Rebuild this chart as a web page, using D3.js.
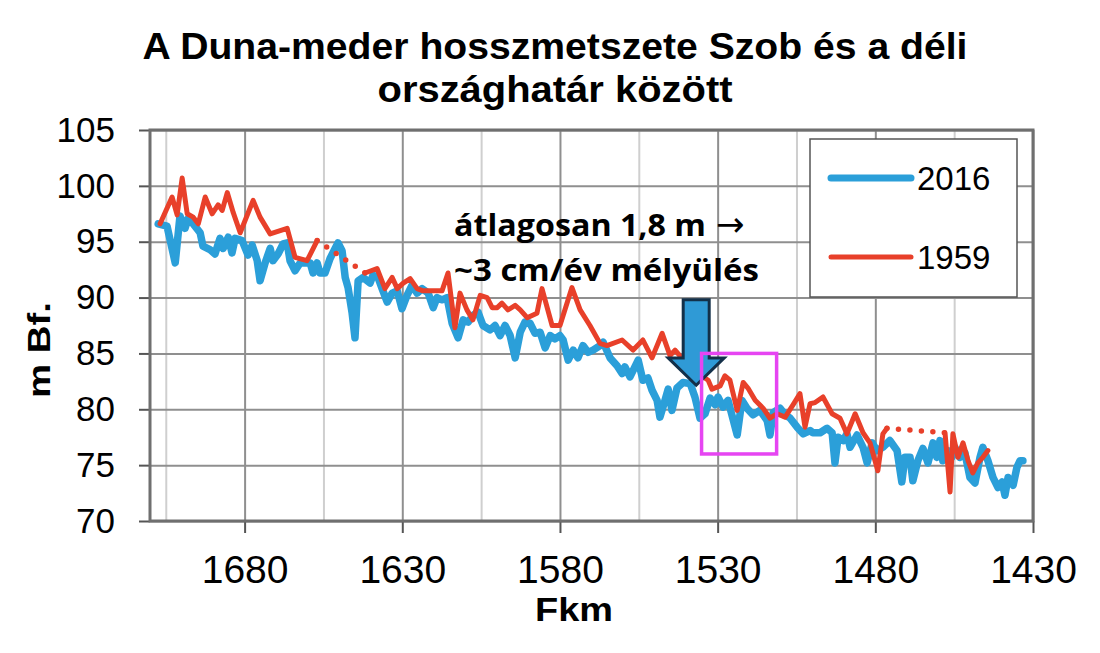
<!DOCTYPE html>
<html>
<head>
<meta charset="utf-8">
<script src="https://cdn.jsdelivr.net/npm/d3@7"></script>
<style>
body { margin: 0; background: #fff; }
</style>
</head>
<body>
<div id="plot"></div>
<script>
//data - riverbed elevation (m Bf.) along the Danube (Fkm)
var fkm2016 = [1707.4,1704.6,1702.0,1700.5,1698.9,1697.9,1696.3,1694.1,1693.2,1691.0,
	1689.4,1687.8,1686.8,1685.2,1684.0,1683.0,1680.8,1678.9,1677.6,1676.0,
	1675.1,1673.5,1671.9,1671.0,1669.4,1667.8,1666.5,1665.6,1664.0,1662.4,
	1660.8,1659.2,1658.3,1657.0,1656.1,1654.5,1652.9,1651.3,1650.4,1649.1,
	1648.1,1647.2,1645.9,1645.0,1644.0,1642.4,1640.2,1639.3,1637.7,1636.4,
	1634.8,1633.2,1631.6,1630.1,1628.5,1626.9,1625.3,1623.7,1621.8,1620.2,
	1619.0,1617.4,1615.8,1614.2,1612.3,1610.7,1609.1,1607.6,1606.0,1604.4,
	1602.2,1600.6,1599.0,1597.4,1595.8,1594.2,1592.6,1591.1,1589.5,1587.9,
	1586.3,1584.7,1583.1,1581.6,1580.0,1579.0,1577.4,1575.8,1574.3,1572.7,
	1571.1,1569.5,1567.3,1566.3,1564.1,1561.9,1560.3,1559.4,1557.8,1555.2,
	1553.7,1552.1,1550.8,1549.2,1548.3,1546.7,1545.7,1544.5,1542.9,1541.0,
	1538.7,1537.2,1535.6,1534.0,1532.4,1530.8,1529.9,1528.3,1526.7,1523.8,
	1522.3,1520.7,1518.8,1516.6,1514.3,1513.4,1512.4,1510.2,1508.6,1507.0,
	1504.8,1502.9,1500.7,1499.8,1497.5,1495.3,1493.7,1492.8,1491.8,1490.2,
	1489.0,1488.0,1485.8,1483.9,1482.6,1481.0,1479.5,1477.6,1475.4,1473.1,
	1471.6,1470.6,1469.0,1468.1,1466.5,1464.9,1463.3,1461.7,1460.5,1459.5,
	1458.6,1457.0,1455.7,1454.8,1453.2,1451.6,1450.0,1448.4,1446.8,1445.9,
	1444.3,1442.7,1441.1,1439.8,1438.9,1437.9,1436.3,1435.1,1434.1,1433.2];
var szint2016 = [96.6,96.4,93.1,97.3,96.2,97.1,96.6,95.8,94.6,94.3,
	93.9,95.3,94.4,95.4,94.0,95.3,95.1,93.8,94.7,93.3,
	91.5,93.1,94.4,93.3,93.9,94.8,94.9,93.3,92.4,93.1,
	93.1,93.1,92.2,93.1,92.2,92.2,93.5,94.4,94.9,94.2,
	91.8,90.9,88.6,86.4,91.5,91.8,91.3,92.0,91.8,90.8,
	89.6,90.4,90.6,89.0,90.2,91.1,90.4,90.8,90.4,89.1,
	90.0,89.8,90.0,87.7,86.4,88.0,87.8,88.4,88.7,87.5,
	87.1,87.5,86.6,87.5,86.6,84.6,86.9,87.8,87.7,86.8,
	86.9,85.5,86.6,86.3,86.6,86.2,84.4,85.3,84.6,85.7,
	85.1,85.3,85.7,86.0,84.6,83.9,83.2,83.8,82.9,84.4,
	82.6,82.8,81.7,80.8,79.3,80.8,81.8,79.9,81.9,82.4,
	82.3,81.1,79.2,79.6,81.0,80.4,81.1,80.2,80.8,77.7,
	80.8,80.1,79.5,79.9,79.0,77.7,79.7,80.1,79.5,79.2,
	78.4,77.8,78.1,77.9,77.9,78.3,77.9,75.2,77.5,77.2,
	77.8,76.6,77.7,76.6,75.2,77.0,76.3,76.6,77.2,76.3,
	73.5,75.7,75.7,73.6,75.4,76.5,75.2,77.0,75.7,77.2,
	75.4,76.3,75.7,76.6,75.7,76.1,73.9,73.4,75.7,76.6,
	75.4,73.9,73.0,73.5,72.3,73.9,73.2,74.8,75.4,75.4];

//1959 survey, null = missing section (shown dotted)
var fkm1959 = [1706.8,1703.0,1701.4,1699.8,1698.2,1696.3,1694.7,1692.5,1690.3,1688.4,
	1687.1,1685.5,1683.6,1681.4,1677.3,1675.1,1671.9,1666.5,1664.0,1660.2,
	1657.0,1650.0,1641.8,1638.0,1635.5,1633.2,1631.6,1629.7,1627.5,1625.3,
	1623.4,1617.4,1615.5,1613.3,1611.7,1609.5,1607.6,1605.3,1603.1,1601.5,
	1599.9,1598.4,1596.5,1594.2,1592.6,1590.4,1587.3,1585.7,1582.5,1580.0,
	1576.2,1573.6,1570.5,1567.3,1565.1,1560.3,1556.8,1553.7,1550.8,1547.6,
	1545.1,1543.5,1538.7,1533.0,1531.8,1529.2,1527.7,1526.1,1523.8,1521.9,
	1520.4,1518.1,1515.6,1513.4,1511.2,1508.6,1506.1,1503.9,1502.3,1500.7,
	1499.1,1496.6,1493.7,1491.2,1489.0,1486.4,1483.9,1481.7,1479.2,1477.6,
	1476.3,1467.0,1457.9,1456.3,1455.4,1453.8,1452.2,1450.6,1449.1,1447.5,
	1445.9,1444.3];
var szint1959 = [96.6,99.0,97.4,100.7,97.5,97.2,96.6,99.0,97.5,98.3,
	97.8,99.4,97.6,95.8,98.7,97.2,95.7,96.2,93.6,93.3,
	95.1,null,92.2,92.6,90.8,91.8,90.8,91.3,91.7,90.8,
	90.6,90.6,92.2,87.3,90.4,88.9,88.0,90.2,90.0,89.1,
	89.1,89.5,88.9,89.3,88.9,88.2,88.6,90.8,87.5,87.5,
	90.9,88.9,87.5,85.9,85.7,86.2,85.3,86.2,84.6,86.8,
	84.8,85.3,83.7,82.6,81.8,82.1,83.0,82.6,79.9,82.4,
	81.9,80.8,80.1,79.2,79.6,79.3,80.4,81.4,78.4,80.5,
	80.6,81.1,79.6,79.2,77.8,79.6,77.9,77.0,74.5,77.8,
	78.3,null,77.9,72.6,77.8,75.7,77.0,75.4,74.3,75.2,
	75.7,76.3];

var xTicks = [1680, 1630, 1580, 1530, 1480, 1430];
var xMinorTicks = [1705, 1655, 1605, 1555, 1505, 1455];
var yTicks = [70, 75, 80, 85, 90, 95, 100, 105];
var seriesNames = ["2016", "1959"];
var seriesColors = ["#2b9fd9", "#e8402a"];

var titleLines = ["A Duna-meder hosszmetszete Szob és a déli", "országhatár között"];
var noteLines = ["átlagosan 1,8 m", "~3 cm/év mélyülés"];

//setup
var W = 1100, H = 653;
var plotLeft = 150, plotRight = 1033, plotTop = 130, plotBottom = 521;
var font = "'Liberation Sans', Arial, sans-serif";

var svg = d3.select("#plot")
	.append("svg")
	.attr("width", W)
	.attr("height", H);

var x = d3.scaleLinear().domain([1710, 1430]).range([plotLeft, plotRight]);
var y = d3.scaleLinear().domain([70, 105]).range([plotBottom, plotTop]);

//grid - light minor verticals, darker majors
svg.append("g")
	.attr("transform", "translate(0," + plotBottom + ")")
	.call(d3.axisBottom(x).tickValues(xMinorTicks).tickSize(-(plotBottom - plotTop)).tickFormat(""))
	.call(function (g) { g.select(".domain").remove(); })
	.selectAll("line").attr("stroke", "#cfcfcf").attr("stroke-width", 2);

svg.append("g")
	.attr("transform", "translate(0," + plotBottom + ")")
	.call(d3.axisBottom(x).tickValues(xTicks).tickSize(-(plotBottom - plotTop)).tickFormat(""))
	.call(function (g) { g.select(".domain").remove(); })
	.selectAll("line").attr("stroke", "#8f8f8f").attr("stroke-width", 2);

svg.append("g")
	.attr("transform", "translate(" + plotLeft + ",0)")
	.call(d3.axisLeft(y).tickValues(yTicks).tickSize(-(plotRight - plotLeft)).tickFormat(""))
	.call(function (g) { g.select(".domain").remove(); })
	.selectAll("line").attr("stroke", "#8f8f8f").attr("stroke-width", 2);

//axes with labels
var yAxis = svg.append("g")
	.attr("transform", "translate(" + plotLeft + ",0)")
	.call(d3.axisLeft(y).tickValues(yTicks).tickSize(11).tickPadding(24).tickFormat(d3.format("d")));
yAxis.select(".domain").remove();
yAxis.selectAll("line").attr("stroke", "#555").attr("stroke-width", 2);
yAxis.selectAll("text")
	.attr("font-family", font)
	.attr("font-size", 35)
	.attr("fill", "#000");

var xAxis = svg.append("g")
	.attr("transform", "translate(0," + plotBottom + ")")
	.call(d3.axisBottom(x).tickValues(xTicks).tickSize(12).tickPadding(22).tickFormat(d3.format("d")));
xAxis.select(".domain").remove();
xAxis.selectAll("line").attr("stroke", "#555").attr("stroke-width", 2);
xAxis.selectAll("text")
	.attr("font-family", font)
	.attr("font-size", 39)
	.attr("fill", "#000");

//plot frame
svg.append("rect")
	.attr("x", plotLeft).attr("y", plotTop)
	.attr("width", plotRight - plotLeft).attr("height", plotBottom - plotTop)
	.attr("fill", "none")
	.attr("stroke", "#6f6f6f")
	.attr("stroke-width", 3);

//lines
var line = d3.line()
	.defined(function (d) { return d[1] !== null; })
	.x(function (d) { return x(d[0]); })
	.y(function (d) { return y(d[1]); });

var data2016 = d3.zip(fkm2016, szint2016);
var data1959 = d3.zip(fkm1959, szint1959);

var plot = svg.append("g");

plot.append("path")
	.datum(data2016)
	.attr("d", line)
	.attr("fill", "none")
	.attr("stroke", seriesColors[0])
	.attr("stroke-width", 7.5)
	.attr("stroke-linejoin", "round")
	.attr("stroke-linecap", "round");

//dotted bridges across the missing 1959 sections
var bridges = [];
data1959.forEach(function (d, i) {
	if (d[1] === null) {
		var a = i - 1, b = i + 1;
		while (a >= 0 && data1959[a][1] === null) a--;
		while (b < data1959.length && data1959[b][1] === null) b++;
		if (a >= 0 && b < data1959.length) bridges.push([data1959[a], data1959[b]]);
	}
});
plot.selectAll(".bridge")
	.data(bridges)
	.enter().append("path")
	.attr("class", "bridge")
	.attr("d", d3.line().x(function (d) { return x(d[0]); }).y(function (d) { return y(d[1]); }))
	.attr("fill", "none")
	.attr("stroke", seriesColors[1])
	.attr("stroke-width", 5.5)
	.attr("stroke-linecap", "round")
	.attr("stroke-dasharray", "0 11.5");

plot.append("path")
	.datum(data1959)
	.attr("d", line)
	.attr("fill", "none")
	.attr("stroke", seriesColors[1])
	.attr("stroke-width", 5)
	.attr("stroke-linejoin", "round")
	.attr("stroke-linecap", "round");

//legend
var legend = svg.append("g");
legend.append("rect")
	.attr("x", 810).attr("y", 139)
	.attr("width", 207).attr("height", 158)
	.attr("fill", "#fff")
	.attr("stroke", "#555")
	.attr("stroke-width", 1.5);
var legendRows = legend.selectAll(".row")
	.data(seriesNames)
	.enter().append("g")
	.attr("class", "row")
	.attr("transform", function (d, i) { return "translate(0," + (178 + i * 79) + ")"; });
legendRows.append("line")
	.attr("x1", 831).attr("x2", 911)
	.attr("stroke", function (d, i) { return seriesColors[i]; })
	.attr("stroke-width", function (d, i) { return i === 0 ? 7 : 5; })
	.attr("stroke-linecap", "round");
legendRows.append("text")
	.attr("x", 917).attr("y", 12)
	.attr("font-family", font)
	.attr("font-size", 33)
	.text(function (d) { return d; });

//arrow, placed on the data scales
var ax = x(1536.8), aTop = y(89.8), aBase = y(84.6), aTip = y(82.15);
var arrowPts = [[ax - 13, aTop], [ax + 13, aTop], [ax + 13, aBase], [ax + 28, aBase],
	[ax, aTip], [ax - 28, aBase], [ax - 13, aBase]];
svg.append("path")
	.attr("d", d3.line()(arrowPts) + "Z")
	.attr("fill", "#2f9ad6")
	.attr("stroke", "#133049")
	.attr("stroke-width", 3)
	.attr("stroke-linejoin", "miter");

//highlight box
svg.append("rect")
	.attr("x", x(1535.1)).attr("y", y(85.0))
	.attr("width", x(1511.3) - x(1535.1))
	.attr("height", y(76.0) - y(85.0))
	.attr("fill", "none")
	.attr("stroke", "#e645f2")
	.attr("stroke-width", 3.5);

//annotation
var noteFont = "'Open Sans', 'Noto Sans', sans-serif";
svg.selectAll(".note")
	.data(noteLines)
	.enter().append("text")
	.attr("class", "note")
	.attr("x", 454)
	.attr("y", function (d, i) { return 236 + i * 45; })
	.attr("font-family", noteFont)
	.attr("font-weight", "bold")
	.attr("font-size", 31)
	.attr("textLength", function (d, i) { return i === 0 ? 252 : 305; })
	.attr("lengthAdjust", "spacingAndGlyphs")
	.text(function (d) { return d; });
//the right arrow after the first line
svg.append("text")
	.attr("x", 716)
	.attr("y", 236)
	.attr("font-family", "'DejaVu Sans', sans-serif")
	.attr("font-size", 34)
	.text("→");

//title
svg.selectAll(".title")
	.data(titleLines)
	.enter().append("text")
	.attr("class", "title")
	.attr("x", 555)
	.attr("y", function (d, i) { return 59 + i * 43; })
	.attr("text-anchor", "middle")
	.attr("font-family", font)
	.attr("font-weight", "bold")
	.attr("font-size", 36)
	.attr("textLength", function (d, i) { return i === 0 ? 825 : 355; })
	.attr("lengthAdjust", "spacingAndGlyphs")
	.text(function (d) { return d; });

//axis titles
svg.append("text")
	.attr("transform", "translate(50,350) rotate(-90)")
	.attr("text-anchor", "middle")
	.attr("font-family", font)
	.attr("font-weight", "bold")
	.attr("font-size", 32)
	.attr("textLength", 96)
	.attr("lengthAdjust", "spacingAndGlyphs")
	.text("m Bf.");

svg.append("text")
	.attr("x", 574).attr("y", 621)
	.attr("text-anchor", "middle")
	.attr("font-family", font)
	.attr("font-weight", "bold")
	.attr("font-size", 33)
	.attr("textLength", 78)
	.attr("lengthAdjust", "spacingAndGlyphs")
	.text("Fkm");
</script>
</body>
</html>
